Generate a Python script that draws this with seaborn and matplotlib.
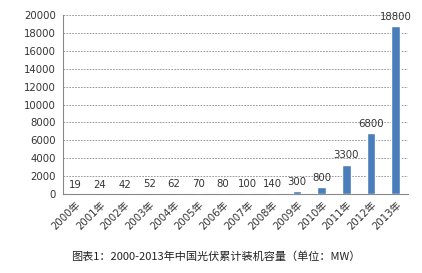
import matplotlib
matplotlib.use("Agg")
import matplotlib.pyplot as plt
import seaborn as sns
import pandas as pd
import numpy as np

years = ["2000年", "2001年", "2002年", "2003年", "2004年", "2005年", "2006年",
         "2007年", "2008年", "2009年", "2010年", "2011年", "2012年", "2013年"]
capacity = [19, 24, 42, 52, 62, 70, 80, 100, 140, 300, 800, 3300, 6800, 18800]
yticks = [0, 2000, 4000, 6000, 8000, 10000, 12000, 14000, 16000, 18000, 20000]
title = "图表1：2000-2013年中国光伏累计装机容量（单位：MW）"

sns.set_style("white")
plt.rcParams['font.family'] = ['DejaVu Sans', 'Noto Sans CJK SC']

df = pd.DataFrame({"year": years, "cap": capacity})

fig = plt.figure(figsize=(4.22, 2.73), dpi=100)
ax = fig.add_axes([0.149, 0.289, 0.818, 0.656])
sns.barplot(data=df, x="year", y="cap", color="#4a7ebb", width=0.35,
            saturation=1, ax=ax, zorder=3)

fs = 7.3
ax.set_ylim(0, 20000)
ax.set_xlim(-0.5, len(years) - 0.5)
ax.set_yticks(yticks)
ax.set_yticklabels([str(v) for v in yticks], fontsize=fs, color="#333333")
ax.yaxis.grid(True, linestyle=(0, (2, 1.5)), color="#888888", linewidth=0.6, zorder=0)
ax.set_xlabel("")
ax.set_ylabel("")

ax.set_xticks(range(len(years)))
ax.set_xticklabels(years, rotation=45, ha="right", rotation_mode="anchor",
                   fontsize=fs, color="#333333",
                   family=['DejaVu Sans', 'Noto Sans CJK SC'])
ax.tick_params(axis="x", which="major", length=0, pad=4)
ax.set_xticks(np.arange(-0.5, len(years), 1.0), minor=True)
ax.tick_params(axis="x", which="minor", length=3, color="#888888", width=0.6, direction="out")
ax.tick_params(axis="y", length=3, color="#888888", width=0.6, direction="out", pad=2)

for s in ["top", "right"]:
    ax.spines[s].set_visible(False)
for s in ["left", "bottom"]:
    ax.spines[s].set_color("#888888")
    ax.spines[s].set_linewidth(0.8)

for i, v in enumerate(capacity):
    ax.annotate(str(v), (i, v), xytext=(0, 3), textcoords="offset points",
                ha="center", va="bottom", fontsize=fs, color="#333333", zorder=4)

fig.text(0.512, 0.06, title, ha="center", va="center", fontsize=8.0, color="#222222",
         family=['Noto Sans CJK SC', 'DejaVu Sans'])

fig.savefig("out.png", dpi=100)
